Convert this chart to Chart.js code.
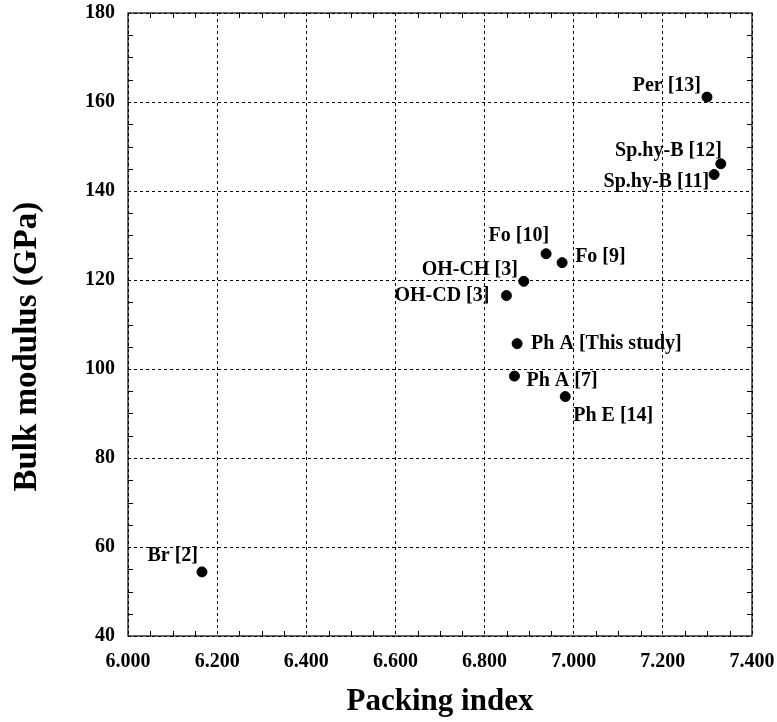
<!DOCTYPE html>
<html>
<head>
<meta charset="utf-8">
<script src="https://cdn.jsdelivr.net/npm/chart.js@4.4.0/dist/chart.umd.min.js"></script>
<style>
  body { margin: 0; background: #fff; }
  #wrap { width: 777px; height: 722px; }
</style>
</head>
<body>
<div id="wrap"><canvas id="myChart" width="777" height="722"></canvas></div>
<script>
const pointNames = ["Br [2]", "OH-CD [3]", "OH-CH [3]", "Fo [10]", "Fo [9]", "Ph A [This study]",
  "Ph A [7]", "Ph E [14]", "Per [13]", "Sp.hy-B [11]", "Sp.hy-B [12]"];
const packingIndex = [6.166, 6.849, 6.888, 6.938, 6.974, 6.873, 6.867, 6.981, 7.299, 7.315, 7.330];
const bulkModulus = [54.4, 116.5, 119.7, 125.9, 123.9, 105.7, 98.4, 93.8, 161.1, 143.7, 146.1];
const xTicks = [6.0, 6.2, 6.4, 6.6, 6.8, 7.0, 7.2, 7.4];
const yTicks = [40, 60, 80, 100, 120, 140, 160, 180];
const yTitle = "Bulk modulus (GPa)";

// where each label sits relative to its point: [textAlign, dx, dy]
const labelPlace = [
  ["right", -4, -16], ["right", -17, 0], ["right", -6, -12], ["right", 3, -18],
  ["left", 13, -6], ["left", 14, 0], ["left", 12, 5], ["left", 8, 19],
  ["right", -6, -11], ["right", -5, 7], ["right", 1, -13]
];

const serif = "'Liberation Serif', 'Times New Roman', serif";

const pointLabels = {
  id: "pointLabels",
  afterDatasetsDraw(chart) {
    const ctx = chart.ctx;
    const meta = chart.getDatasetMeta(0);
    ctx.save();
    ctx.font = "bold 20px " + serif;
    ctx.fillStyle = "#000";
    ctx.textBaseline = "middle";
    meta.data.forEach((pt, i) => {
      const [align, dx, dy] = labelPlace[i];
      ctx.textAlign = align;
      ctx.fillText(pointNames[i], pt.x + dx, pt.y + dy);
    });
    ctx.restore();
  }
};

// box round the plot, inward minor ticks, and the y title (sits a bit below centre)
const frame = {
  id: "frame",
  afterDraw(chart) {
    const { ctx, chartArea: a, scales } = chart;
    ctx.save();
    ctx.strokeStyle = "#000";
    ctx.lineWidth = 1.2;
    ctx.strokeRect(a.left, a.top, a.right - a.left, a.bottom - a.top);
    ctx.lineWidth = 1;
    ctx.beginPath();
    for (let v = 6.05; v < 7.4; v += 0.05) {
      if (Math.abs(v * 5 - Math.round(v * 5)) < 1e-6) continue;
      const x = Math.round(scales.x.getPixelForValue(v)) + 0.5;
      ctx.moveTo(x, a.bottom); ctx.lineTo(x, a.bottom - 5);
      ctx.moveTo(x, a.top); ctx.lineTo(x, a.top + 5);
    }
    for (let v = 45; v < 180; v += 5) {
      if (v % 20 === 0) continue;
      const y = Math.round(scales.y.getPixelForValue(v)) + 0.5;
      ctx.moveTo(a.left, y); ctx.lineTo(a.left + 5, y);
      ctx.moveTo(a.right, y); ctx.lineTo(a.right - 5, y);
    }
    ctx.stroke();

    ctx.translate(27, scales.y.getPixelForValue(105));
    ctx.rotate(-Math.PI / 2);
    ctx.font = "bold 33px " + serif;
    ctx.fillStyle = "#000";
    ctx.textAlign = "center";
    ctx.textBaseline = "middle";
    ctx.fillText(yTitle, 0, 0);
    ctx.restore();
  }
};

new Chart(document.getElementById("myChart"), {
  type: "scatter",
  data: {
    datasets: [{
      label: "Bulk modulus",
      data: packingIndex.map((x, i) => ({ x: x, y: bulkModulus[i] })),
      backgroundColor: "#000",
      borderColor: "#000",
      pointRadius: 5,
      pointHoverRadius: 5
    }]
  },
  options: {
    responsive: false,
    animation: false,
    layout: { padding: { top: 13, right: 25, left: 0, bottom: 0 } },
    plugins: { legend: { display: false }, tooltip: { enabled: false } },
    scales: {
      x: {
        min: 6.0,
        max: 7.4,
        afterBuildTicks: (s) => { s.ticks = xTicks.map(v => ({ value: v })); },
        afterFit: (s) => { s.height = 86; s.paddingLeft = 0; s.paddingRight = 0; },
        grid: { color: "#000", lineWidth: 1, drawTicks: false },
        border: { display: false, dash: [3, 3] },
        ticks: {
          padding: 14,
          color: "#000",
          font: { family: serif, size: 20, weight: "bold" },
          callback: (v) => Number(v).toFixed(3)
        },
        title: {
          display: true,
          text: "Packing index",
          color: "#000",
          font: { family: serif, size: 31, weight: "bold" },
          padding: { top: 0, bottom: 1 }
        }
      },
      y: {
        min: 40,
        max: 180,
        afterBuildTicks: (s) => { s.ticks = yTicks.map(v => ({ value: v })); },
        afterFit: (s) => { s.width = 128; s.paddingTop = 0; s.paddingBottom = 0; },
        grid: { color: "#000", lineWidth: 1, drawTicks: false },
        border: { display: false, dash: [3, 3] },
        ticks: {
          padding: 13,
          color: "#000",
          font: { family: serif, size: 20, weight: "bold" }
        }
      }
    }
  },
  plugins: [pointLabels, frame]
});
</script>
</body>
</html>
